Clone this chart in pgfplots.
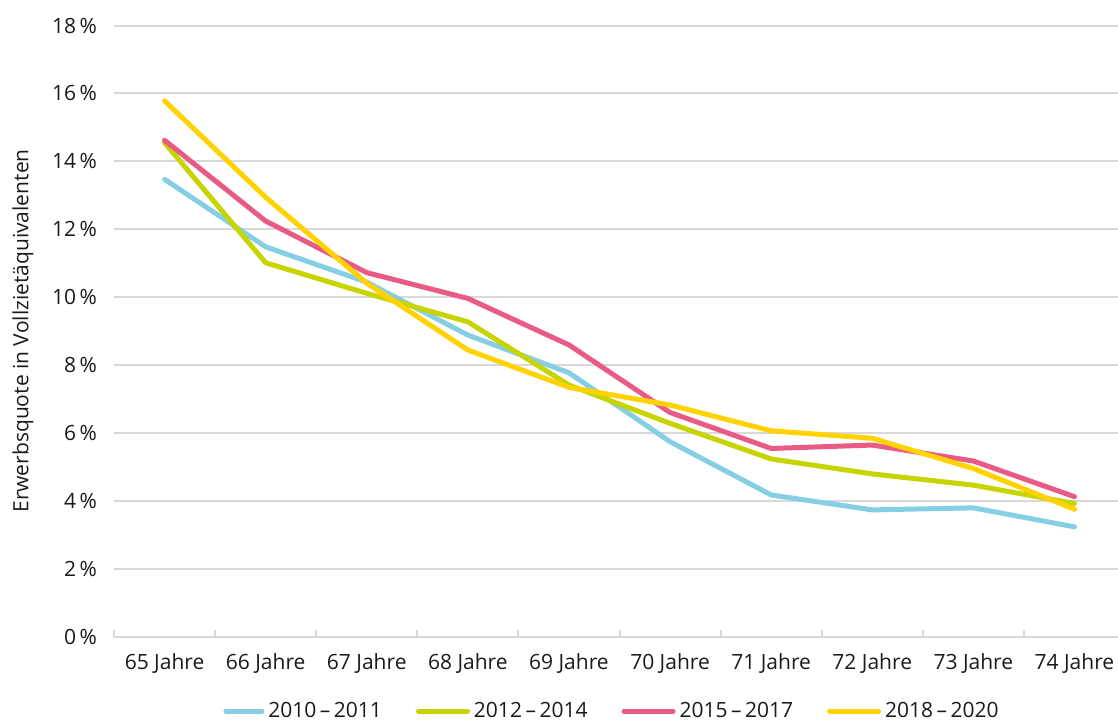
\documentclass[border=0pt]{standalone}
\usepackage{pgfplots}
\pgfplotsset{compat=1.18}
\usepackage{fontspec}
\setmainfont{Open Sans}

\definecolor{cBlue}{HTML}{86CEE4}
\definecolor{cGreen}{HTML}{C8D400}
\definecolor{cPink}{HTML}{E95A84}
\definecolor{cYellow}{HTML}{FFD200}
\definecolor{cGrid}{HTML}{D9D9D9}
\definecolor{cText}{HTML}{1A1A1A}

\begin{document}
\begin{tikzpicture}
\begin{axis}[
  name=ax,
  scale only axis,
  width=505.5pt, height=305.5pt,
  xmin=-0.5, xmax=9.5, ymin=0, ymax=18,
  font=\fontsize{10.5}{12.6}\selectfont,
  /pgf/number format/assume math mode=true,
  axis x line*=bottom, axis y line*=left,
  y axis line style={draw=none},
  x axis line style={cGrid, line width=1pt},
  xtick={0,...,9},
  xticklabels={65 Jahre,66 Jahre,67 Jahre,68 Jahre,69 Jahre,70 Jahre,71 Jahre,72 Jahre,73 Jahre,74 Jahre},
  major x tick style={draw=none},
  minor xtick={-0.5,0.5,...,9.5},
  minor x tick style={cGrid, line width=1pt},
  minor tick length=3.5pt,
  tick align=inside,
  ytick={0,2,...,18},
  yticklabels={0\,\%,2\,\%,4\,\%,6\,\%,8\,\%,10\,\%,12\,\%,14\,\%,16\,\%,18\,\%},
  y tick style={draw=none},
  ymajorgrids,
  grid style={cGrid, line width=1pt},
  xticklabel style={text=cText, yshift=-5pt},
  yticklabel style={text=cText, xshift=-5pt},
  ylabel={Erwerbsquote in Vollzietäquivalenten},
  ylabel style={at={(axis description cs:-0.090,0.5)}, anchor=center, text=cText},
  legend columns=4,
  legend style={draw=none, fill=none, at={(axis description cs:0.4936,-0.122)}, anchor=center,
    text=cText, /tikz/every even column/.append style={column sep=15pt}},
  legend image code/.code={\draw[line width=2.5pt, line cap=round] (1.25pt,0pt) -- (25.75pt,0pt);},
  every axis plot/.append style={line width=2.5pt, line join=round, line cap=round},
]
\addplot[cBlue, legend image code/.code={\draw[line width=2.5pt, line cap=round] (1.25pt,0pt) -- (19.25pt,0pt);}]
  coordinates {(0,13.47) (1,11.48) (2,10.44) (3,8.88) (4,7.77) (5,5.74) (6,4.17) (7,3.73) (8,3.79) (9,3.23)};
\addlegendentry{2010\,–\,2011}
\addplot[cGreen] coordinates {(0,14.55) (1,11.01) (2,10.11) (3,9.27) (4,7.41) (5,6.28) (6,5.23) (7,4.79) (8,4.46) (9,3.92)};
\addlegendentry{2012\,–\,2014}
\addplot[cPink] coordinates {(0,14.62) (1,12.24) (2,10.72) (3,9.96) (4,8.59) (5,6.60) (6,5.54) (7,5.64) (8,5.17) (9,4.12)};
\addlegendentry{2015\,–\,2017}
\addplot[cYellow] coordinates {(0,15.78) (1,12.94) (2,10.41) (3,8.44) (4,7.34) (5,6.82) (6,6.06) (7,5.84) (8,4.95) (9,3.75)};
\addlegendentry{2018\,–\,2020}
\end{axis}
\pgfresetboundingbox
\path[use as bounding box] ([shift={(-57pt,-41.75pt)}]ax.south west) rectangle ([shift={(502pt,318.25pt)}]ax.south west);
\end{tikzpicture}
\end{document}
